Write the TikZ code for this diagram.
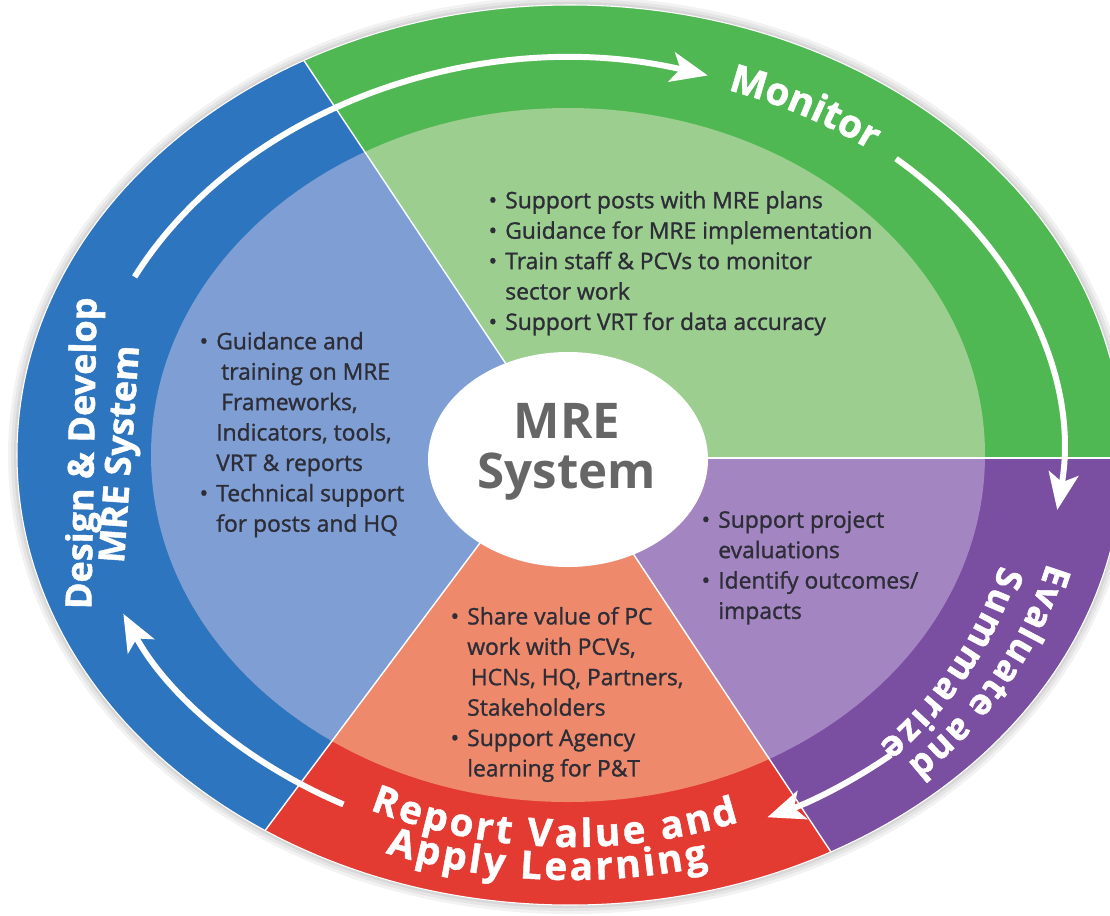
\documentclass[tikz,border=0pt]{standalone}
\usepackage{fontspec}
\setmainfont{Open Sans}
\newfontfamily\bodyfont{Open Sans}[FakeBold=1.2]
\newfontfamily\heavyfont{Open Sans}[BoldFeatures={FakeBold=1.2}]
\usetikzlibrary{arrows.meta,decorations.text}

\definecolor{dkblue}{RGB}{46,117,191}
\definecolor{ltblue}{RGB}{127,158,212}
\definecolor{dkgreen}{RGB}{80,184,82}
\definecolor{ltgreen}{RGB}{156,207,143}
\definecolor{dkpurple}{RGB}{122,78,160}
\definecolor{ltpurple}{RGB}{163,133,193}
\definecolor{dkred}{RGB}{227,58,50}
\definecolor{ltred}{RGB}{238,138,107}
\definecolor{txtgray}{RGB}{45,45,55}
\definecolor{midgray}{RGB}{102,102,102}

\newcommand{\ringfont}{\heavyfont\fontsize{22}{26}\selectfont\bfseries}
\newcommand{\sidefont}{\heavyfont\fontsize{20.5}{24}\selectfont\bfseries}
\newcommand{\bitem}{\makebox[9.5pt][l]{\textbullet}}
\newcommand{\bgap}{\hspace*{9.5pt}}

\begin{document}
\begin{tikzpicture}
	\tikzstyle{every node}=[inner sep=0pt]
	\tikzstyle{ringarrow}=[white, line width=3.4pt, -{Stealth[length=21pt,width=17pt,inset=5pt]}]
	\tikzstyle{ringtext}=[anchor=base, text=white, font=\sidefont]
	\tikzstyle{arclabel}=[decorate, decoration={text along path, text color=white, text align={fit to path}}]
	\tikzstyle{bullets}=[anchor=north west, align=left, text=txtgray, font={\bodyfont\fontsize{13}{17.3}\selectfont}]
	\tikzstyle{sepline}=[white, line width=0.8pt]

	\path[use as bounding box, fill=white] (0.0000,0.0000) rectangle (22.2000,-18.3000);

	%%soft shadow round the ring
	\fill[black, opacity=0.05] (11.4000,-9.1000) ellipse [x radius=11.2400, y radius=9.1800];
	\fill[black, opacity=0.05] (11.4000,-9.1000) ellipse [x radius=11.1800, y radius=9.1200];
	\fill[black, opacity=0.06] (11.4000,-9.1000) ellipse [x radius=11.1200, y radius=9.0600];

	%%sectors: outer band, then inner field
	\begin{scope}
		\clip (11.4000,-9.2000) -- (4.1600,1.6700) -- (-2.0000,2.0000) -- (-2.0000,-22.0000) -- (2.7960,-19.9640) -- (10.8400,-9.2000) -- cycle;
		\fill[dkblue] (11.4000,-9.1000) ellipse [x radius=11.0600, y radius=9.0000];
		\fill[ltblue] (11.3600,-9.1000) ellipse [x radius=8.3400, y radius=6.9400];
	\end{scope}
	\begin{scope}
		\clip (11.4000,-9.2000) -- (4.1600,1.6700) -- (26.0000,2.0000) -- (26.0000,-9.1600) -- (11.4000,-9.1600) -- cycle;
		\fill[dkgreen] (11.4000,-9.1000) ellipse [x radius=11.0600, y radius=9.0000];
		\fill[ltgreen] (11.3600,-9.1000) ellipse [x radius=8.3400, y radius=6.9400];
	\end{scope}
	\begin{scope}
		\clip (11.4000,-9.1600) -- (26.0000,-9.1600) -- (26.0000,-22.0000) -- (18.9600,-20.5680) -- (11.4200,-9.2000) -- cycle;
		\fill[dkpurple] (11.4000,-9.1000) ellipse [x radius=11.0600, y radius=9.0000];
		\fill[ltpurple] (11.3600,-9.1000) ellipse [x radius=8.3400, y radius=6.9400];
	\end{scope}
	\begin{scope}
		\clip (11.4200,-9.2000) -- (18.9600,-20.5680) -- (11.0000,-24.0000) -- (2.7960,-19.9640) -- (10.8400,-9.2000) -- cycle;
		\fill[dkred] (11.4000,-9.1000) ellipse [x radius=11.0600, y radius=9.0000];
		\fill[ltred] (11.3600,-9.1000) ellipse [x radius=8.3400, y radius=6.9400];
	\end{scope}

	\begin{scope}
		\clip (11.4000,-9.1000) ellipse [x radius=11.0600, y radius=9.0000];
		\draw[sepline] (11.4000,-9.2000) -- (4.1600,1.6700);
		\draw[sepline] (11.4000,-9.1600) -- (26.0000,-9.1600);
		\draw[sepline] (11.4200,-9.2000) -- (18.9600,-20.5680);
		\draw[sepline] (10.8400,-9.2000) -- (2.7960,-19.9640);
	\end{scope}
	\draw[white, line width=0.6pt] (11.4000,-9.1000) ellipse [x radius=11.0600, y radius=9.0000];

	%%ring arrows
	\draw[ringarrow] (2.6925,-5.5379) arc [start angle=153.2, end angle=73.9, x radius=9.8000, y radius=7.9000];
	\draw[ringarrow] (17.9207,-3.1742) arc [start angle=48.6, end angle=-8.0, x radius=9.8000, y radius=7.9000];
	\draw[ringarrow] (17.8178,-15.0985) arc [start angle=-49.4, end angle=-66.5, x radius=9.8000, y radius=7.9000];
	\draw[ringarrow] (6.8693,-16.0883) arc [start angle=-117.8, end angle=-156.3, x radius=9.8000, y radius=7.9000];

	%%ring labels
	\path[arclabel, decoration={text={|\ringfont|Monitor}}] (14.5534,-1.8019) arc [start angle=71.4, end angle=52.4, x radius=9.7600, y radius=7.7000];
	\path[arclabel, decoration={text={|\sidefont|Evaluate and}}] (20.9417,-11.2556) arc [start angle=-14.8, end angle=-47.0, x radius=9.8280, y radius=8.4400];
	\path[arclabel, decoration={text={|\sidefont|Summarize}}] (19.9994,-11.3054) arc [start angle=-16.0, end angle=-46.5, x radius=8.9040, y radius=8.0020];
	\path[arclabel, decoration={text={|\ringfont|Report Value and}}] (7.3949,-16.1936) arc [start angle=-115.2, end angle=-69.4, x radius=9.5000, y radius=7.8400];
	\path[arclabel, decoration={text={|\ringfont|Apply Learning}}] (7.7109,-17.0569) arc [start angle=-110.6, end angle=-75.1, x radius=10.6000, y radius=8.5000];
	\node[ringtext, rotate=89] (design) at (1.8800,-9.0700) {Design \& Develop};
	\node[ringtext, rotate=86] (mresys) at (2.6300,-9.1000) {MRE System};

	%%hub
	\fill[white] (11.3600,-9.1900) ellipse [x radius=2.8000, y radius=2.1500];
	\node[align=center, text=midgray, font={\bfseries\fontsize{28}{28.4}\selectfont}] (hub) at (11.3400,-9.0300) {MRE\\System};

	%%sector texts
	\node[bullets] (monitorlist) at (9.7648,-3.8120) {\bitem Support posts with MRE plans\\ \bitem Guidance for MRE implementation\\ \bitem Train staff \& PCVs to monitor\\ \bgap sector work\\ \bitem Support VRT for data accuracy};
	\node[bullets] (designlist) at (3.9848,-6.6320) {\bitem Guidance and\\ \bgap\hspace*{2.8pt}training on MRE\\ \bgap\hspace*{2.8pt}Frameworks,\\ \bgap Indicators, tools,\\ \bgap VRT \& reports\\ \bitem Technical support\\ \bgap for posts and HQ};
	\node[bullets] (evallist) at (14.0248,-10.2120) {\bitem Support project\\ \bgap evaluations\\ \bitem Identify outcomes/\\ \bgap impacts};
	\node[bullets] (reportlist) at (9.0048,-12.1320) {\bitem Share value of PC\\ \bgap work with PCVs,\\ \bgap\hspace*{2pt}HCNs, HQ, Partners,\\ \bgap Stakeholders\\ \bitem Support Agency\\ \bgap learning for P\&T};

\end{tikzpicture}
\end{document}
